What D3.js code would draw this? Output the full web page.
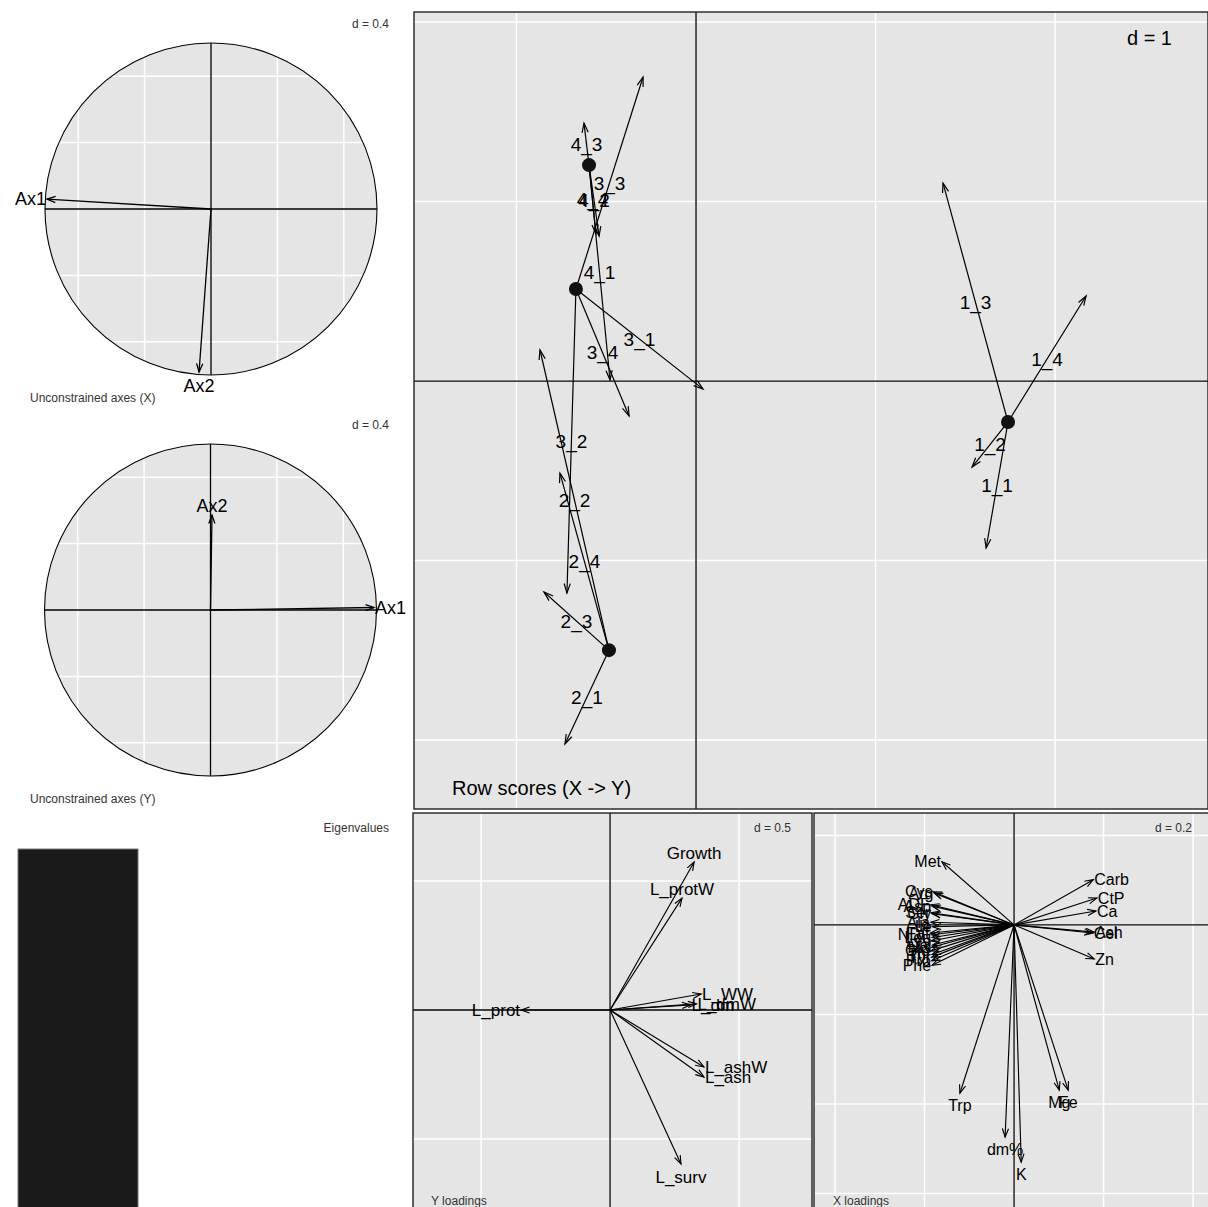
<!DOCTYPE html>
<html><head><meta charset="utf-8">
<script src="https://cdn.jsdelivr.net/npm/d3@7"></script>
<style>
body{margin:0;background:#fff}
svg{display:block}
text{font-family:"Liberation Sans",Arial,Helvetica,sans-serif}
</style>
</head><body>
<svg id="fig" width="1208" height="1207"></svg>
<script>
// ---- Row scores: group origins and individual rows (X -> Y) ----
const groupNames = ["1", "2", "3", "4"];
const groupX = [1.738, -0.485, -0.669, -0.596];
const groupY = [-0.228, -1.499, 0.513, 1.203];

const rowNames = ["1_1","1_2","1_3","1_4","2_1","2_2","2_3","2_4",
                  "3_1","3_2","3_3","3_4","4_1","4_2","4_3","4_4"];
const rowX = [1.616, 1.538, 1.376, 2.173, -0.730, -0.869, -0.847, -0.758,
              0.039, -0.719, -0.295, -0.373, -0.479, -0.540, -0.624, -0.557];
const rowY = [-0.930, -0.479, 1.103, 0.474, -2.022, 0.173, -1.175, -0.513,
              -0.045, -1.181, 1.694, -0.195, 0.006, 0.808, 1.437, 0.819];

// ---- Unconstrained axes (correlation circles) ----
const axisNames = ["Ax1", "Ax2"];
const axesXx = [-0.988, -0.072];
const axesXy = [0.060, -0.982];
const axesYx = [0.985, 0.009];
const axesYy = [0.015, 0.572];

// ---- Eigenvalues ----
const eigenvalues = [1.0];

// ---- Y loadings ----
const yLoadNames = ["Growth","L_protW","L_prot","L_WW","L_dm","L_dmW","L_ashW","L_ash","L_surv"];
const yLoadX = [0.326, 0.279, -0.345, 0.353, 0.312, 0.335, 0.364, 0.364, 0.275];
const yLoadY = [0.574, 0.434, 0.000, 0.062, 0.020, 0.024, -0.221, -0.260, -0.597];

// ---- X loadings ----
const xLoadNames = ["Met","Carb","CtP","Ca","Ash","Cel","Zn","Trp","dm%","K","Mg","Fe",
  "Cys","Arg","ADF","Asp","Ser","Gly","Ala","Ile","Fat","NDF","Leu","Lys","Val","His","Glu","Thr","Tyr","Pro","Phe"];
const xLoadX = [-0.161, 0.177, 0.185, 0.183, 0.179, 0.176, 0.179, -0.121, -0.020, 0.016, 0.101, 0.121,
  -0.180, -0.178, -0.186, -0.183, -0.185, -0.183, -0.186, -0.182, -0.187, -0.184, -0.183, -0.185, -0.182, -0.184, -0.186, -0.183, -0.184, -0.184, -0.183];
const xLoadY = [0.141, 0.101, 0.060, 0.031, -0.016, -0.018, -0.076, -0.376, -0.474, -0.530, -0.369, -0.369,
  0.074, 0.071, 0.045, 0.042, 0.027, 0.025, 0.006, -0.004, -0.018, -0.022, -0.028, -0.036, -0.045, -0.050, -0.058, -0.066, -0.072, -0.080, -0.090];

const svg = d3.select("#fig");
const PANEL_BG = "#e5e5e5";
const INK = "#000";

// open arrow head drawn as two short strokes
function arrow(g, x0, y0, x1, y1, opt = {}) {
  const len = opt.len || 9, ang = (opt.ang || 20) * Math.PI / 180, sw = opt.sw || 1.15;
  g.append("line").attr("x1", x0).attr("y1", y0).attr("x2", x1).attr("y2", y1)
    .attr("stroke", INK).attr("stroke-width", sw);
  const a = Math.atan2(y1 - y0, x1 - x0);
  const p = d3.path();
  p.moveTo(x1 - len * Math.cos(a - ang), y1 - len * Math.sin(a - ang));
  p.lineTo(x1, y1);
  p.lineTo(x1 - len * Math.cos(a + ang), y1 - len * Math.sin(a + ang));
  g.append("path").attr("d", p.toString()).attr("fill", "none")
    .attr("stroke", INK).attr("stroke-width", sw);
}

// label placed just beyond the arrow tip
function tipLabel(g, x0, y0, x1, y1, txt, size) {
  const dx = x1 - x0, dy = y1 - y0;
  const t = g.append("text").text(txt).attr("font-size", size).attr("fill", INK);
  if (Math.abs(dx) >= Math.abs(dy)) {
    t.attr("x", x1 + (dx > 0 ? 1 : -1)).attr("y", y1).attr("dy", "0.35em")
     .attr("text-anchor", dx > 0 ? "start" : "end");
  } else {
    t.attr("x", x1).attr("text-anchor", "middle")
     .attr("y", dy > 0 ? y1 + 6 : y1 - 2).attr("dy", dy > 0 ? "0.75em" : "-0.05em");
  }
}

function smallText(g, x, y, txt, anchor) {
  g.append("text").attr("x", x).attr("y", y).attr("text-anchor", anchor)
    .attr("font-size", 12).attr("fill", "#333").text(txt);
}

// ---------- correlation circle panel ----------
function corCircle(cx, cy, r, xs, ys, id, caption) {
  const g = svg.append("g");
  const sx = d3.scaleLinear().domain([-1, 1]).range([cx - r, cx + r]);
  const sy = d3.scaleLinear().domain([-1, 1]).range([cy + r, cy - r]);
  g.append("clipPath").attr("id", id).append("circle").attr("cx", cx).attr("cy", cy).attr("r", r);
  g.append("circle").attr("cx", cx).attr("cy", cy).attr("r", r).attr("fill", PANEL_BG);
  const grid = g.append("g").attr("clip-path", `url(#${id})`);
  const ticks = [-1.2, -0.8, -0.4, 0.4, 0.8, 1.2];
  ticks.forEach(v => {
    grid.append("line").attr("x1", sx(v)).attr("x2", sx(v)).attr("y1", cy - r).attr("y2", cy + r)
      .attr("stroke", "#fff").attr("stroke-width", 1.5);
    grid.append("line").attr("y1", sy(v)).attr("y2", sy(v)).attr("x1", cx - r).attr("x2", cx + r)
      .attr("stroke", "#fff").attr("stroke-width", 1.5);
  });
  g.append("line").attr("x1", sx(-1)).attr("x2", sx(1)).attr("y1", sy(0)).attr("y2", sy(0)).attr("stroke", INK).attr("stroke-width", 1.3);
  g.append("line").attr("x1", sx(0)).attr("x2", sx(0)).attr("y1", sy(-1)).attr("y2", sy(1)).attr("stroke", INK).attr("stroke-width", 1.3);
  g.append("circle").attr("cx", cx).attr("cy", cy).attr("r", r).attr("fill", "none").attr("stroke", INK).attr("stroke-width", 1.1);
  axisNames.forEach((n, i) => {
    arrow(g, sx(0), sy(0), sx(xs[i]), sy(ys[i]), { len: 9, ang: 20, sw: 1.3 });
    tipLabel(g, sx(0), sy(0), sx(xs[i]), sy(ys[i]), n, 18);
  });
  smallText(g, 389, cy - 181, "d = 0.4", "end");
  smallText(g, 30, cy + 193, caption, "start");
}

corCircle(211, 209, 166, axesXx, axesXy, "clipX", "Unconstrained axes (X)");
corCircle(210.5, 610, 166, axesYx, axesYy, "clipY", "Unconstrained axes (Y)");

// ---------- eigenvalues ----------
{
  const g = svg.append("g");
  const bx = d3.scaleBand().domain(eigenvalues.map((d, i) => i)).range([18, 138]).padding(0);
  const by = d3.scaleLinear().domain([0, d3.max(eigenvalues)]).range([1230, 849]);
  g.selectAll("rect").data(eigenvalues).join("rect")
    .attr("x", (d, i) => bx(i)).attr("width", bx.bandwidth())
    .attr("y", d => by(d)).attr("height", d => by(0) - by(d))
    .attr("fill", "#1a1a1a").attr("stroke", "#777").attr("stroke-width", 1);
  smallText(g, 389, 832, "Eigenvalues", "end");
}

// ---------- generic scatter panel ----------
function panel(x0, y0, x1, y1, xDom, yDom, step) {
  const g = svg.append("g");
  const sx = d3.scaleLinear().domain(xDom).range([x0, x1]);
  const sy = d3.scaleLinear().domain(yDom).range([y1, y0]);
  const id = "clip" + Math.round(x0) + "_" + Math.round(y0);
  g.append("clipPath").attr("id", id).append("rect").attr("x", x0).attr("y", y0).attr("width", x1 - x0).attr("height", y1 - y0);
  g.append("rect").attr("x", x0).attr("y", y0).attr("width", x1 - x0).attr("height", y1 - y0).attr("fill", PANEL_BG);
  const inner = g.append("g").attr("clip-path", `url(#${id})`);
  const xt = d3.range(Math.ceil(xDom[0] / step), Math.floor(xDom[1] / step) + 1).map(k => k * step);
  const yt = d3.range(Math.ceil(yDom[0] / step), Math.floor(yDom[1] / step) + 1).map(k => k * step);
  xt.forEach(v => inner.append("line").attr("x1", sx(v)).attr("x2", sx(v)).attr("y1", y0).attr("y2", y1).attr("stroke", "#fff").attr("stroke-width", 1.5));
  yt.forEach(v => inner.append("line").attr("y1", sy(v)).attr("y2", sy(v)).attr("x1", x0).attr("x2", x1).attr("stroke", "#fff").attr("stroke-width", 1.5));
  inner.append("line").attr("x1", sx(0)).attr("x2", sx(0)).attr("y1", y0).attr("y2", y1).attr("stroke", INK).attr("stroke-width", 1.3);
  inner.append("line").attr("y1", sy(0)).attr("y2", sy(0)).attr("x1", x0).attr("x2", x1).attr("stroke", INK).attr("stroke-width", 1.3);
  return { g, inner, sx, sy, frame: () => g.append("rect").attr("x", x0).attr("y", y0).attr("width", x1 - x0).attr("height", y1 - y0).attr("fill", "none").attr("stroke", "#222").attr("stroke-width", 1.4) };
}

// ---------- Row scores ----------
{
  const p = panel(414, 12, 1208, 809, [-1.571, 2.852], [-2.384, 2.056], 1);
  const { inner, sx, sy } = p;
  rowNames.forEach((n, i) => {
    const gi = groupNames.indexOf(n.split("_")[0]);
    const xa = sx(groupX[gi]), ya = sy(groupY[gi]), xb = sx(rowX[i]), yb = sy(rowY[i]);
    arrow(inner, xa, ya, xb, yb, { len: 10, ang: 18, sw: 1.2 });
  });
  groupNames.forEach((n, i) => {
    inner.append("circle").attr("cx", sx(groupX[i])).attr("cy", sy(groupY[i])).attr("r", 7).attr("fill", "#111");
  });
  rowNames.forEach((n, i) => {
    const gi = groupNames.indexOf(n.split("_")[0]);
    const mx = (sx(groupX[gi]) + sx(rowX[i])) / 2, my = (sy(groupY[gi]) + sy(rowY[i])) / 2;
    inner.append("text").attr("x", mx).attr("y", my).attr("dy", "0.35em").attr("text-anchor", "middle")
      .attr("font-size", 19).attr("fill", INK).text(n);
  });
  inner.append("text").attr("x", 1172).attr("y", 45).attr("text-anchor", "end").attr("font-size", 20).attr("fill", INK).text("d = 1");
  inner.append("text").attr("x", 452).attr("y", 795).attr("font-size", 20).attr("fill", INK).text("Row scores (X -> Y)");
  p.frame();
}

// ---------- Y loadings ----------
{
  const p = panel(413, 813, 812, 1215, [-0.764, 0.783], [-0.795, 0.764], 0.5);
  const { inner, sx, sy } = p;
  yLoadNames.forEach((n, i) => arrow(inner, sx(0), sy(0), sx(yLoadX[i]), sy(yLoadY[i]), { len: 9, ang: 20 }));
  yLoadNames.forEach((n, i) => tipLabel(inner, sx(0), sy(0), sx(yLoadX[i]), sy(yLoadY[i]), n, 17));
  smallText(inner, 791, 832, "d = 0.5", "end");
  smallText(inner, 431, 1205, "Y loadings", "start");
  p.frame();
}

// ---------- X loadings ----------
{
  const p = panel(814, 813, 1215, 1215, [-0.447, 0.449], [-0.648, 0.250], 0.2);
  const { inner, sx, sy } = p;
  xLoadNames.forEach((n, i) => arrow(inner, sx(0), sy(0), sx(xLoadX[i]), sy(xLoadY[i]), { len: 9, ang: 20 }));
  xLoadNames.forEach((n, i) => tipLabel(inner, sx(0), sy(0), sx(xLoadX[i]), sy(xLoadY[i]), n, 16));
  smallText(inner, 1192, 832, "d = 0.2", "end");
  smallText(inner, 833, 1205, "X loadings", "start");
  p.frame();
}
</script>
</body></html>
